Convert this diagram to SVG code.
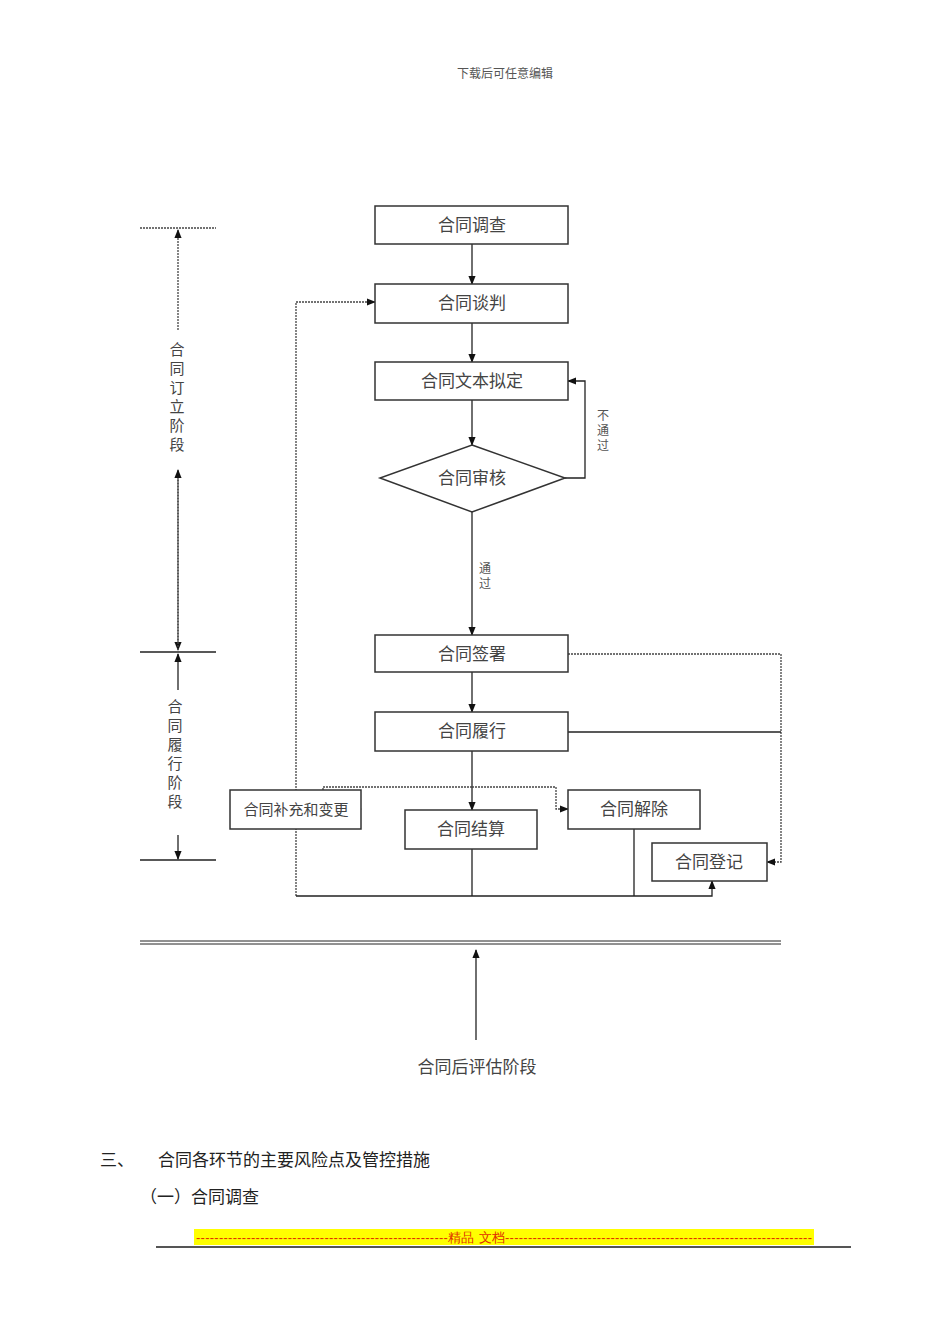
<svg xmlns="http://www.w3.org/2000/svg" width="950" height="1344" viewBox="0 0 950 1344">
<style>
.b{fill:#fff;stroke:#333;stroke-width:1.5}
.t{font-family:"Noto Sans CJK SC",sans-serif;font-size:17px;fill:#444;text-anchor:middle}
.v{font-family:"Noto Sans CJK SC",sans-serif;font-size:15px;fill:#444;text-anchor:middle}
.s{font-family:"Noto Sans CJK SC",sans-serif;font-size:12px;fill:#555;text-anchor:middle}
.l{stroke:#222;stroke-width:1.3;fill:none}
.d{stroke:#444;stroke-width:1.3;fill:none;stroke-dasharray:2 1}
</style>
<defs><marker id="a" viewBox="0 0 10 10" refX="9" refY="5" markerWidth="7" markerHeight="7" orient="auto"><path d="M0,1L10,5L0,9z" fill="#111"/></marker></defs>
<rect width="950" height="1344" fill="#fff"/>
<text x="505" y="78" class="s">下载后可任意编辑</text>
<g id="connectors">
<path class="l" d="M472,244V284" marker-end="url(#a)"/>
<path class="l" d="M472,323V362" marker-end="url(#a)"/>
<path class="l" d="M472,400V445" marker-end="url(#a)"/>
<path class="l" d="M565,478H585V381H568" marker-end="url(#a)"/>
<path class="l" d="M472,512V635" marker-end="url(#a)"/>
<path class="l" d="M472,672V712" marker-end="url(#a)"/>
<path class="l" d="M472,751V810" marker-end="url(#a)"/>
<path class="d" d="M472,787H323V809H361" marker-end="url(#a)"/>
<path class="d" d="M472,787H556V809H568" marker-end="url(#a)"/>
<path class="d" d="M568,654H781V862H767" marker-end="url(#a)"/>
<path class="l" d="M568,732H781"/>
<path class="d" d="M296,896V302H375" marker-end="url(#a)"/>
<path class="l" d="M296,896H712V881" marker-end="url(#a)"/>
<path class="l" d="M472,849V896M634,829V896"/>
<path class="d" d="M140,228H216"/>
<path class="d" d="M178,330V230" marker-end="url(#a)"/>
<path class="d" d="M178,470V650" marker-end="url(#a)"/>
<path class="d" d="M178,650V470" marker-end="url(#a)"/>
<path class="l" d="M140,652H216M140,860H216"/>
<path class="l" d="M178,690V654" marker-end="url(#a)"/>
<path class="l" d="M178,835V859" marker-end="url(#a)"/>
<path class="l" d="M140,941H781M140,944H781" style="stroke-width:1"/>
<path class="l" d="M476,1040V950" marker-end="url(#a)"/>
</g>
<g id="n1"><rect class="b" x="375" y="206" width="193" height="38"/><text class="t" x="472" y="231">合同调查</text></g>
<g id="n2"><rect class="b" x="375" y="284" width="193" height="39"/><text class="t" x="472" y="309">合同谈判</text></g>
<g id="n3"><rect class="b" x="375" y="362" width="193" height="38"/><text class="t" x="472" y="387">合同文本拟定</text></g>
<g id="n4"><path class="b" d="M472,445L565,478L472,512L380,478z"/><text class="t" x="472" y="484">合同审核</text></g>
<g id="n5"><rect class="b" x="375" y="635" width="193" height="37"/><text class="t" x="472" y="660">合同签署</text></g>
<g id="n6"><rect class="b" x="375" y="712" width="193" height="39"/><text class="t" x="472" y="737">合同履行</text></g>
<g id="n7"><rect class="b" x="230" y="790" width="131" height="39"/><text class="t" x="296" y="815" style="font-size:15px">合同补充和变更</text></g>
<g id="n8"><rect class="b" x="405" y="810" width="132" height="39"/><text class="t" x="471" y="835">合同结算</text></g>
<g id="n9"><rect class="b" x="568" y="790" width="132" height="39"/><text class="t" x="634" y="815">合同解除</text></g>
<g id="n10"><rect class="b" x="652" y="843" width="115" height="38"/><text class="t" x="709" y="868">合同登记</text></g>
<g id="labels">
<text class="s" x="603" y="420">不</text><text class="s" x="603" y="435">通</text><text class="s" x="603" y="450">过</text>
<text class="s" x="485" y="573">通</text><text class="s" x="485" y="588">过</text>
<text class="v" x="177" y="355">合</text><text class="v" x="177" y="374">同</text><text class="v" x="177" y="393">订</text><text class="v" x="177" y="412">立</text><text class="v" x="177" y="431">阶</text><text class="v" x="177" y="450">段</text>
<text class="v" x="175" y="712">合</text><text class="v" x="175" y="731">同</text><text class="v" x="175" y="750">履</text><text class="v" x="175" y="769">行</text><text class="v" x="175" y="788">阶</text><text class="v" x="175" y="807">段</text>
<text class="t" x="477" y="1073">合同后评估阶段</text>
</g>
<text x="100" y="1166" style="font-family:'Noto Sans CJK SC',sans-serif;font-size:17px;fill:#222">三、</text>
<text x="158" y="1166" style="font-family:'Noto Sans CJK SC',sans-serif;font-size:17px;fill:#222">合同各环节的主要风险点及管控措施</text>
<text x="140" y="1203" style="font-family:'Noto Sans CJK SC',sans-serif;font-size:17px;fill:#222">（一）合同调查</text>
<rect x="194" y="1229" width="620" height="16" fill="#ffff00"/>
<text x="196" y="1242" textLength="616" lengthAdjust="spacing" style="font-family:'Liberation Sans',sans-serif;font-size:13px;fill:#e03000">-------------------------------------------------------精品 文档-------------------------------------------------------------------</text>
<line x1="156" y1="1247" x2="851" y2="1247" stroke="#555" stroke-width="2"/>
</svg>
